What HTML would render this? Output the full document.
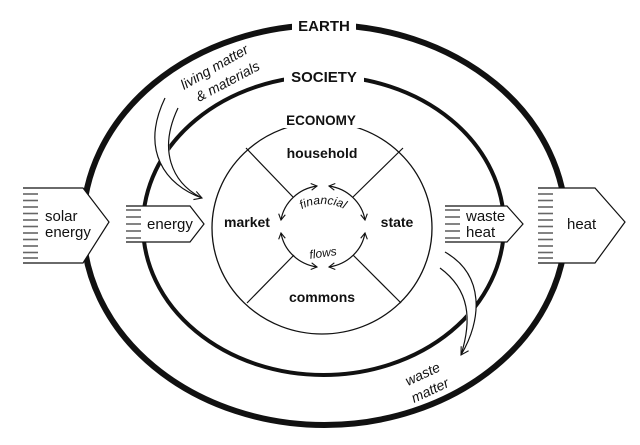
<!DOCTYPE html>
<html><head><meta charset="utf-8"><style>
html,body{margin:0;padding:0;background:#fff;}
svg{display:block;}
text{font-family:"Liberation Sans",sans-serif;fill:#111;}
.b{font-weight:bold;}
</style></head><body>
<svg width="640" height="445" viewBox="0 0 640 445" xmlns="http://www.w3.org/2000/svg">
<defs>
<marker id="ah" viewBox="0 0 10 10" refX="8" refY="5" markerWidth="7" markerHeight="7" orient="auto-start-reverse">
<path d="M1,1 L8,5 L1,9" fill="none" stroke="#111" stroke-width="1.3"/></marker>
<marker id="ah2" viewBox="0 0 10 10" refX="8" refY="5" markerWidth="9" markerHeight="9" orient="auto">
<path d="M1,1 L8,5 L1,9" fill="none" stroke="#111" stroke-width="1"/></marker>
</defs>
<!-- Earth -->
<ellipse cx="324.5" cy="225" rx="241.5" ry="200" fill="none" stroke="#111" stroke-width="6"/>
<rect x="292" y="14" width="64" height="22" fill="#fff"/>
<text x="324" y="31" text-anchor="middle" class="b" font-size="15">EARTH</text>
<!-- Society -->
<ellipse cx="323.5" cy="225.5" rx="180.5" ry="149.5" fill="none" stroke="#111" stroke-width="4"/>
<rect x="284" y="66" width="80" height="20" fill="#fff"/>
<text x="324" y="82" text-anchor="middle" class="b" font-size="15">SOCIETY</text>
<!-- living matter arrow -->
<path d="M165,98 C140,150 165,185 202,198 C175,185 158,150 178,108 Z" fill="#fff" stroke="none"/>
<path d="M165,98 C140,150 165,185 202,198" fill="none" stroke="#111" stroke-width="1.2" marker-end="url(#ah2)"/>
<path d="M178,108 C158,150 172,182 200,197" fill="none" stroke="#111" stroke-width="1.2"/>
<text transform="translate(184,90) rotate(-30)" font-size="14" font-style="italic">living matter</text>
<text transform="translate(199,102) rotate(-28)" font-size="14" font-style="italic">&amp; materials</text>
<!-- Economy -->
<ellipse cx="322" cy="228" rx="110" ry="106" fill="#fff" stroke="#111" stroke-width="1.3"/>
<rect x="280" y="112" width="84" height="16" fill="#fff"/>
<text x="321" y="125" text-anchor="middle" class="b" font-size="13.5">ECONOMY</text>
<line x1="246" y1="148" x2="293" y2="197" stroke="#111" stroke-width="1.2"/>
<line x1="403" y1="148" x2="353" y2="197" stroke="#111" stroke-width="1.2"/>
<line x1="247" y1="303" x2="294" y2="255" stroke="#111" stroke-width="1.2"/>
<line x1="401" y1="303" x2="353" y2="255" stroke="#111" stroke-width="1.2"/>
<text x="322" y="158" text-anchor="middle" class="b" font-size="14">household</text>
<text x="322" y="302" text-anchor="middle" class="b" font-size="14">commons</text>
<text x="247" y="227" text-anchor="middle" class="b" font-size="14">market</text>
<text x="397" y="227" text-anchor="middle" class="b" font-size="14">state</text>
<!-- financial flows -->
<path d="M317,186 A43,41 0 0 0 281,220" fill="none" stroke="#111" stroke-width="1.2" marker-start="url(#ah)" marker-end="url(#ah)"/>
<path d="M329,186 A43,41 0 0 1 365,220" fill="none" stroke="#111" stroke-width="1.2" marker-start="url(#ah)" marker-end="url(#ah)"/>
<path d="M281,233 A43,41 0 0 0 317,267" fill="none" stroke="#111" stroke-width="1.2" marker-start="url(#ah)" marker-end="url(#ah)"/>
<path d="M365,233 A43,41 0 0 1 329,267" fill="none" stroke="#111" stroke-width="1.2" marker-start="url(#ah)" marker-end="url(#ah)"/>
<path id="fin" d="M286,232 A37,28 0 0 1 360,232" fill="none"/>
<text font-size="12" font-style="italic"><textPath href="#fin" startOffset="50%" text-anchor="middle">financial</textPath></text>
<text x="323" y="257" text-anchor="middle" font-size="12" font-style="italic" transform="rotate(-8 323 253)">flows</text>
<!-- waste matter arrow -->
<path d="M445,252 C485,275 482,320 461,356 C470,320 470,290 440,268 Z" fill="#fff"/>
<path d="M445,252 C485,275 482,320 461,355" fill="none" stroke="#111" stroke-width="1.2" marker-end="url(#ah2)"/>
<path d="M440,268 C470,290 472,320 461,355" fill="none" stroke="#111" stroke-width="1.2"/>
<text transform="translate(408,386) rotate(-25)" font-size="14" font-style="italic">waste</text>
<text transform="translate(414,403) rotate(-25)" font-size="14" font-style="italic">matter</text>
<!-- arrows -->
<g fill="#fff" stroke="#111" stroke-width="1.2">
<path d="M23,188 H83 L109,222 L83,263 H23"/>
<path d="M126,206 H190 L204,224 L190,242 H126"/>
<path d="M445,206 H507 L523,224 L507,242 H445"/>
<path d="M538,188 H595 L625,222 L595,263 H538"/>
</g>
<g stroke="#666" stroke-width="1.6">
<line x1="23" y1="194" x2="38" y2="194"/><line x1="23" y1="200.5" x2="38" y2="200.5"/><line x1="23" y1="207" x2="38" y2="207"/><line x1="23" y1="213.5" x2="38" y2="213.5"/><line x1="23" y1="220" x2="38" y2="220"/><line x1="23" y1="226.5" x2="38" y2="226.5"/><line x1="23" y1="233" x2="38" y2="233"/><line x1="23" y1="239.5" x2="38" y2="239.5"/><line x1="23" y1="246" x2="38" y2="246"/><line x1="23" y1="252.5" x2="38" y2="252.5"/><line x1="23" y1="258" x2="38" y2="258"/>
<line x1="126" y1="210" x2="141" y2="210"/><line x1="126" y1="217" x2="141" y2="217"/><line x1="126" y1="224" x2="141" y2="224"/><line x1="126" y1="231" x2="141" y2="231"/><line x1="126" y1="238" x2="141" y2="238"/>
<line x1="445" y1="210" x2="460" y2="210"/><line x1="445" y1="217" x2="460" y2="217"/><line x1="445" y1="224" x2="460" y2="224"/><line x1="445" y1="231" x2="460" y2="231"/><line x1="445" y1="238" x2="460" y2="238"/>
<line x1="538" y1="194" x2="553" y2="194"/><line x1="538" y1="200.5" x2="553" y2="200.5"/><line x1="538" y1="207" x2="553" y2="207"/><line x1="538" y1="213.5" x2="553" y2="213.5"/><line x1="538" y1="220" x2="553" y2="220"/><line x1="538" y1="226.5" x2="553" y2="226.5"/><line x1="538" y1="233" x2="553" y2="233"/><line x1="538" y1="239.5" x2="553" y2="239.5"/><line x1="538" y1="246" x2="553" y2="246"/><line x1="538" y1="252.5" x2="553" y2="252.5"/><line x1="538" y1="258" x2="553" y2="258"/>
</g>
<text x="45" y="221" font-size="15">solar</text>
<text x="45" y="237" font-size="15">energy</text>
<text x="147" y="229" font-size="15">energy</text>
<text x="466" y="221" font-size="15">waste</text>
<text x="466" y="237" font-size="15">heat</text>
<text x="567" y="229" font-size="15">heat</text>
</svg>
</body></html>
